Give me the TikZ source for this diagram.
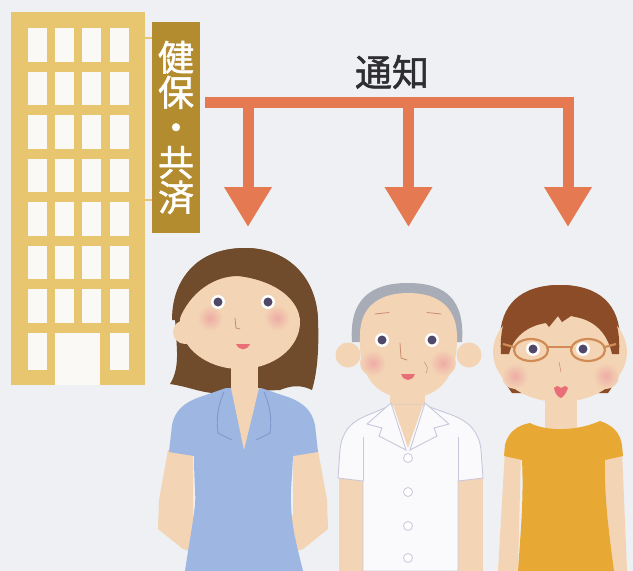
\documentclass[tikz,border=0pt]{standalone}
\usepackage{fontspec}
\newfontfamily\jp[FakeBold=1.3]{Noto Sans CJK JP}
\usetikzlibrary{arrows.meta}
\definecolor{bgc}{RGB}{238,240,243}
\definecolor{bldg}{RGB}{232,198,112}
\definecolor{winc}{RGB}{250,249,245}
\definecolor{labelc}{RGB}{180,140,48}
\definecolor{arrowc}{RGB}{229,122,82}
\definecolor{inkc}{RGB}{45,45,50}
\definecolor{skin}{RGB}{243,212,180}
\definecolor{blush}{RGB}{238,172,165}
\definecolor{pupil}{RGB}{80,72,104}
\definecolor{mouthc}{RGB}{232,110,120}
\definecolor{hairA}{RGB}{112,76,44}
\definecolor{hairB}{RGB}{168,172,182}
\definecolor{hairC}{RGB}{140,76,40}
\definecolor{blouse}{RGB}{158,182,226}
\definecolor{blouseline}{RGB}{128,152,204}
\definecolor{shirt}{RGB}{250,250,252}
\definecolor{shirtline}{RGB}{200,200,220}
\definecolor{dress}{RGB}{232,169,52}
\definecolor{glassc}{RGB}{208,140,84}
\definecolor{facelines}{RGB}{200,140,110}
\begin{document}
\begin{tikzpicture}[x=1pt,y=-1pt,
  bar/.style={draw=arrowc,line width=11pt},
  drop/.style={bar,-{Triangle[width=45pt,length=40pt]}},
  kenpobox/.style={fill=labelc,text=white,minimum width=48pt,minimum height=211pt,
    inner sep=0pt,align=center,font=\jp\fontsize{36}{35}\selectfont},
  notice/.style={text=inkc,inner sep=0pt,font=\jp\fontsize{37}{40}\selectfont},
  eyewhite/.style={fill=white},
  eyeball/.style={fill=pupil},
  facestroke/.style={draw=facelines,line width=0.8pt,line cap=round},
  seam/.style={draw=shirtline,line width=0.9pt}]
\useasboundingbox (0,0) rectangle (633,571);
\fill[bgc] (0,0) rectangle (633,571);

% ---------- office building ----------
\fill[bldg] (11,12) rectangle (145,385);
\foreach \r in {0,...,6}{
  \foreach \c in {28,55,82,110}{
    \fill[winc] (\c,28+43.5*\r) rectangle ++(18.5,33.5);
  }
}
\fill[winc] (28,333) rectangle (46.5,370);
\fill[winc] (55,333) rectangle (100,385);
\fill[winc] (110,333) rectangle (128.5,370);
\draw[bldg,line width=2pt] (145,38) -- (152,38);
\draw[bldg,line width=2pt] (145,200) -- (152,200);

% ---------- insurer label and notice arrows ----------
\node[kenpobox] (kenpo) at (176,127.5) {健\\保\\・\\共\\済};
\node[notice] (tsuchi) at (392,72) {通知};
\coordinate (busstart) at (205,102.8);
\coordinate (jA) at (248,102.8);
\coordinate (jB) at (408.5,102.8);
\coordinate (toA) at (248,227);
\coordinate (toB) at (408.5,227);
\coordinate (toC) at (568,227);
\draw[drop] (busstart) -| (toC);
\draw[drop] (jA) -- (toA);
\draw[drop] (jB) -- (toB);

% ---------- woman in blue blouse ----------
\fill[hairA] (245,248) .. controls (200,248) and (175,275) .. (175,312)
  .. controls (175,342) and (182,365) .. (170,384)
  .. controls (185,386) and (200,392) .. (212,393) -- (280,390)
  .. controls (290,386) and (300,384) .. (312,390)
  .. controls (318,370) and (319,345) .. (318,320)
  .. controls (316,280) and (290,248) .. (245,248) -- cycle;
\fill[skin] (231,350) rectangle (258,420);
\fill[skin] (185,332) circle (12);
\fill[skin] (240,322) ellipse [x radius=60,y radius=47];
\fill[hairA] (172,320) .. controls (172,272) and (205,248) .. (245,248)
  .. controls (290,248) and (318,280) .. (318,322)
  -- (300,318) .. controls (296,296) and (272,280) .. (238,276)
  .. controls (214,276) and (190,292) .. (179,320) -- cycle;
\shade[inner color=blush,outer color=skin] (210,318) circle (13);
\shade[inner color=blush,outer color=skin] (277,318) circle (13);
\fill[eyewhite] (218,302) circle (7);
\fill[eyeball] (218,302) circle (4.5);
\fill[eyewhite] (268,302) circle (7);
\fill[eyeball] (268,302) circle (4.5);
\draw[facestroke] (235,318) -- (236,328) -- (240,329);
\fill[mouthc] (236,344) .. controls (239,351) and (247,351) .. (250,344) -- cycle;
% arms folded behind the back
\fill[skin] (168,450) -- (193,450) -- (193,515) -- (199,528) -- (198,554)
  -- (183,549) -- (158,529) -- (159,500) -- cycle;
\fill[skin] (318,450) -- (293,450) -- (293,515) -- (287,528) -- (288,554)
  -- (303,549) -- (328,529) -- (327,500) -- cycle;
\fill[blouse] (226,388) -- (200,397) .. controls (185,402) and (175,410) .. (172,425)
  -- (169,452) -- (194,456) .. controls (194,480) and (196,495) .. (195,505)
  .. controls (192,530) and (188,550) .. (185,571) -- (303,571)
  .. controls (298,550) and (292,530) .. (291,505)
  .. controls (290,495) and (292,480) .. (293,456) -- (318,452)
  -- (315,425) .. controls (312,410) and (302,402) .. (288,397) -- (261,388) -- cycle;
\fill[skin] (231,388) -- (244,450) -- (259,388) -- cycle;
\draw[blouseline,line width=0.9pt,line cap=round] (224,392) .. controls (218,405) and (216,420) .. (218,433) -- (232,440);
\draw[blouseline,line width=0.9pt,line cap=round] (264,392) .. controls (270,405) and (272,420) .. (270,433) -- (256,440);

% ---------- man in white shirt ----------
\fill[skin] (348,355) circle (12.5);
\fill[skin] (469,355) circle (12.5);
\fill[hairB] (352,342) .. controls (349,300) and (370,283) .. (408,283)
  .. controls (446,283) and (465,300) .. (462,342) -- cycle;
\fill[skin] (360,335) .. controls (360,306) and (380,293) .. (408,293)
  .. controls (437,293) and (456,306) .. (457,335)
  .. controls (458,376) and (440,398) .. (408,398)
  .. controls (376,398) and (358,376) .. (360,335) -- cycle;
\shade[inner color=blush,outer color=skin] (373,363) circle (13);
\shade[inner color=blush,outer color=skin] (443,363) circle (13);
\draw[facestroke] (375,314) -- (389,312.5);
\draw[facestroke] (427,312.5) -- (441,314);
\fill[eyewhite] (382,340) circle (7);
\fill[eyeball] (382,340) circle (4.5);
\fill[eyewhite] (432,340) circle (7);
\fill[eyeball] (432,340) circle (4.5);
\draw[facestroke] (400,343) -- (401,358) -- (407,360);
\draw[facestroke,line width=0.5pt] (424,362) .. controls (428,366) and (428,370) .. (426,373);
\fill[mouthc] (401,374) .. controls (404,382) and (412,382) .. (415,374) -- cycle;
\fill[skin] (390,385) rectangle (425,450);
\fill[skin] (339,470) rectangle (363,571);
\fill[skin] (458,470) rectangle (483,571);
\filldraw[fill=shirt,draw=shirtline,line width=0.9pt]
  (392,405) -- (368,415) .. controls (350,422) and (342,432) .. (340,450)
  -- (338,478) -- (363,481) -- (363,571) -- (458,571) -- (458,481)
  -- (483,478) -- (481,450) .. controls (479,432) and (470,422) .. (452,415)
  -- (424,405) -- cycle;
\fill[skin] (393,405) -- (408,448) -- (423,405) -- cycle;
\filldraw[fill=shirt,draw=shirtline,line width=0.9pt]
  (391,403) -- (367,424) -- (382,428) -- (379,436) -- (406,450) -- cycle;
\filldraw[fill=shirt,draw=shirtline,line width=0.9pt]
  (425,403) -- (449,424) -- (434,428) -- (437,436) -- (410,450) -- cycle;
\draw[seam] (363,437) -- (363,481);
\draw[seam] (458,437) -- (458,481);
\foreach \y in {458,492,526,558}{
  \filldraw[fill=white,draw=shirtline,line width=0.8pt] (408,\y) circle (4.5);
}

% ---------- woman in yellow dress ----------
\fill[hairC] (560,285) .. controls (520,285) and (500,305) .. (500,340)
  .. controls (500,365) and (503,382) .. (512,393) -- (608,393)
  .. controls (617,382) and (620,365) .. (620,340)
  .. controls (620,305) and (600,285) .. (560,285) -- cycle;
\fill[skin] (545,390) rectangle (577,440);
\fill[skin] (560,352) ellipse [x radius=67,y radius=50];
\fill[hairC] (501,354) .. controls (498,310) and (520,285) .. (560,285)
  .. controls (600,285) and (622,310) .. (619,354)
  -- (612,354) .. controls (608,336) and (598,323) .. (580,318)
  -- (571,316) -- (562,322) -- (558,316) -- (549,327) -- (546,323)
  .. controls (526,326) and (513,338) .. (509,354) -- cycle;
\shade[inner color=blush,outer color=skin] (515,376) circle (13);
\shade[inner color=blush,outer color=skin] (606,376) circle (13);
\fill[eyewhite] (533,349) circle (7);
\fill[eyeball] (533,349) circle (4.5);
\fill[eyewhite] (583,349) circle (7);
\fill[eyeball] (583,349) circle (4.5);
\draw[glassc,line width=2.2pt] (531,350) ellipse [x radius=17,y radius=11];
\draw[glassc,line width=2.2pt] (588,350) ellipse [x radius=17,y radius=11];
\draw[glassc,line width=2.2pt] (548,347) -- (571,347);
\draw[glassc,line width=2.2pt] (514,347) -- (503,344);
\draw[glassc,line width=2.2pt] (605,347) -- (616,344);
\draw[facestroke,line width=0.5pt] (559,362) -- (561,372);
\fill[mouthc] (554,388) .. controls (557,385) and (559,386) .. (561,388)
  .. controls (563,386) and (566,385) .. (568,388)
  .. controls (566,394) and (563,397) .. (561,398)
  .. controls (558,397) and (555,394) .. (554,388) -- cycle;
\fill[skin] (505,450) -- (521,450) -- (518,571) -- (498,571) -- cycle;
\fill[skin] (603,450) -- (622,450) -- (627,571) -- (606,571) -- cycle;
\fill[dress] (530,423) .. controls (545,431) and (575,432) .. (600,421)
  .. controls (612,425) and (620,432) .. (622,445) -- (623,456) -- (605,460)
  .. controls (604,500) and (610,540) .. (614,571) -- (518,571)
  .. controls (520,540) and (524,500) .. (522,460) -- (504,456)
  -- (505,445) .. controls (508,432) and (518,425) .. (530,423) -- cycle;
\end{tikzpicture}
\end{document}
